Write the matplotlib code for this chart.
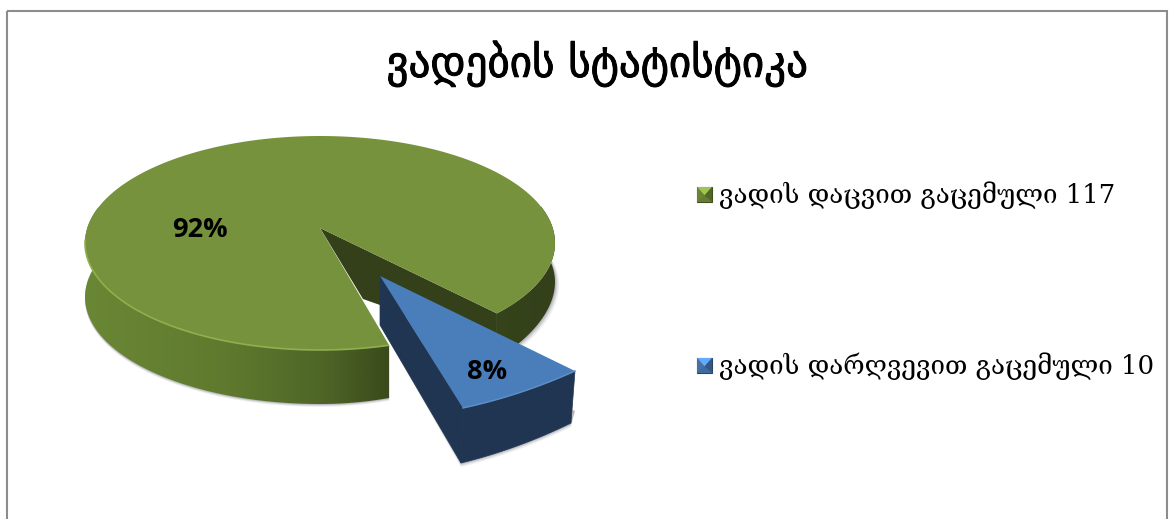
import numpy as np
import matplotlib
matplotlib.use("Agg")
import matplotlib.pyplot as plt
import matplotlib.patheffects as pe
from matplotlib.patches import Polygon, Rectangle
from matplotlib.colors import LinearSegmentedColormap, to_rgb

title = "ვადების სტატისტიკა"
labels = ["ვადის დაცვით გაცემული 117", "ვადის დარღვევით გაცემული 10"]
values = [117, 10]
pct_labels = ["92%", "8%"]
top_colors = ["#76923c", "#4a7ebb"]
rim_colors = ["#8fb04d", "#5f90ca"]
inner_colors = ["#33401a", "#1f3552"]

W, H = 1171, 519
fig = plt.figure(figsize=(W/100, H/100), dpi=100)
ax = fig.add_axes([0, 0, 1, 1])
ax.axis("off")

ax.add_patch(Rectangle((7, 11), 1160, 520, fill=False, ec="#8c8c8c", lw=1.5))
ax.text(597, 64, title, ha="center", va="center", fontsize=31, family="DejaVu Sans",
        path_effects=[pe.withStroke(linewidth=0.7, foreground="black")])

total = sum(values)
sweep = [v / total * 360 for v in values]
perspective = 1.12
start = -72.9
cx, cy, rx, ry = 320, 243, 235, 107
green_apex = (320, 228)
blue_apex = (380, 276)


def rim(a):
    r = np.radians(a)
    return cx + rx*np.cos(r), cy - ry*np.sin(r)


def depth(a):
    return 54 - 15*np.maximum(0, np.cos(np.radians(a)))**2


# green slice
a = np.linspace(start + sweep[1]*perspective, start + 360, 721)
x, y = rim(a)
ax.add_patch(Polygon([green_apex, (x[0], y[0]), (x[0], y[0]+depth(a[0])), (380, 305), (363, 299)],
                     fc=inner_colors[0], ec="none", zorder=1))

# the green outer wall: right part (before the top arc) and left part (after it)
wall_cmap = LinearSegmentedColormap.from_list(
    "wall", [(0, "#6a8735"), (0.3, "#5f7a2e"), (0.5, "#4f6627"), (0.65, "#3a4a1c"), (1, "#33401a")])
grad = np.linspace(0, 1, 512)[None, :]
for seg in (a[(a < 20)], a[(a > 160)]):
    sx, sy = rim(seg)
    d = depth(seg)
    bottom = np.column_stack([sx, sy + d])
    for off, alpha in ((4, .10), (2.5, .16), (1.2, .22)):
        ax.add_patch(Polygon(np.vstack([np.column_stack([sx, sy]), (bottom + [0 if seg[0] > 0 else off, off*.7])[::-1]]),
                             fc="#555566", ec="none", alpha=alpha, zorder=1.5))
    poly = Polygon(np.vstack([np.column_stack([sx, sy]), bottom[::-1]]), fc="none", ec="none",
                   transform=ax.transData)
    ax.add_patch(poly)
    im = ax.imshow(grad, extent=(cx-rx, cx+rx, 0, H), cmap=wall_cmap, aspect="auto", zorder=2,
                   vmin=0, vmax=1)
    im.set_clip_path(poly)

ax.add_patch(Polygon(np.vstack([[green_apex], np.column_stack([x, y])]),
                     fc=top_colors[0], ec="none", zorder=3))
# light rim along the near edge
m = a > 178
ax.plot(x[m], y[m], color=rim_colors[0], lw=1.2, zorder=3.1, solid_capstyle="butt")

# blue slice, pulled out of the pie
near, far = (463, 408), (575, 371)
b = np.linspace(0, 1, 40)
chord_x = near[0] + b*(far[0]-near[0])
chord_y = near[1] + b*(far[1]-near[1])
bulge = 4*b*(1-b)*3
bx, by = chord_x + bulge*0.3, chord_y + bulge
wall_bx = bx - 2 - b*2
wall_by = by + 55 - b*3

pts = np.column_stack([wall_bx, wall_by])
for off, alpha in ((4, .10), (2.5, .16), (1.2, .22)):
    ax.add_patch(Polygon(np.vstack([[(380, 325)], pts + [0, off], [(far[0], far[1]+40)]]),
                         fc="#555566", ec="none", alpha=alpha, zorder=3.5))
ax.add_patch(Polygon([blue_apex, near, (wall_bx[0], wall_by[0]), (380, 325)],
                     fc=inner_colors[1], ec=inner_colors[1], lw=0.5, zorder=4))
ax.add_patch(Polygon(np.vstack([np.column_stack([bx, by]), pts[::-1]]),
                     fc=inner_colors[1], ec=inner_colors[1], lw=0.5, zorder=4))
ax.add_patch(Polygon(np.vstack([[blue_apex], np.column_stack([bx, by])]),
                     fc=top_colors[1], ec="none", zorder=5))
ax.plot(bx, by, color=rim_colors[1], lw=1, zorder=5.1)

ax.text(200, 230, pct_labels[0], ha="center", va="center", fontsize=19.5, fontweight="bold",
        family="Open Sans", zorder=6)
ax.text(487, 372, pct_labels[1], ha="center", va="center", fontsize=19.5, fontweight="bold",
        family="Open Sans", zorder=6)


def swatch(x0, y0, s, col):
    """Bevelled legend key."""
    c = np.array(to_rgb(col))
    tl, tr, bl, br = (x0, y0), (x0+s, y0), (x0, y0+s), (x0+s, y0+s)
    mid = (x0+s/2, y0+s/2+1)
    ax.add_patch(Rectangle(tl, s, s, fc=c*0.8, ec=c*0.55, lw=0.8))
    ax.add_patch(Polygon([tl, tr, mid], fc=np.clip(c*1.35, 0, 1), ec="none"))
    ax.add_patch(Polygon([tr, br, mid], fc=c*0.7, ec="none"))
    ax.add_patch(Polygon([bl, br, mid], fc=c*0.85, ec="none"))
    ax.add_patch(Polygon([tl, bl, mid], fc=c*0.9, ec="none"))


for lab, yy, col in zip(labels, [195, 366], top_colors):
    swatch(697, yy-8, 15, col)
    ax.text(719, yy, lab, ha="left", va="center", fontsize=18.75, family="DejaVu Serif")

ax.set_xlim(0, W)
ax.set_ylim(H, 0)
fig.savefig("out.png", dpi=100)
